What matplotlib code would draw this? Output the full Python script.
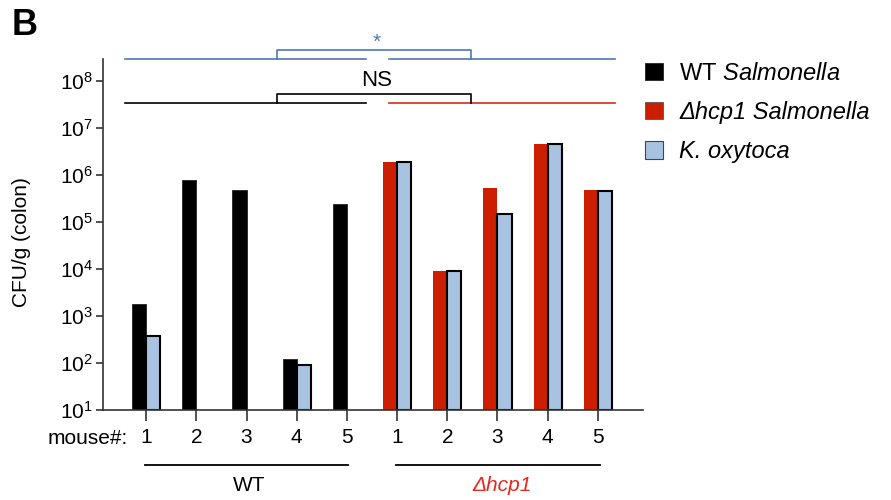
import numpy as np
import matplotlib
matplotlib.use("Agg")
import matplotlib.pyplot as plt
from matplotlib.patches import Patch
import matplotlib.transforms as mtransforms

plt.rcParams['font.family'] = ['Liberation Sans', 'DejaVu Sans']
plt.rcParams['mathtext.fontset'] = 'custom'
plt.rcParams['mathtext.rm'] = 'Liberation Sans'
plt.rcParams['mathtext.it'] = 'Liberation Sans:italic'
plt.rcParams['mathtext.bf'] = 'Liberation Sans:bold'

# CFU/g, nan = no bar
mouse_labels = ['1', '2', '3', '4', '5', '1', '2', '3', '4', '5']
wt_salmonella = [1.8e3, 7.7e5, 4.8e5, 1.2e2, 2.4e5]
wt_koxytoca = [3.7e2, np.nan, np.nan, 89, np.nan]
hcp1_salmonella = [1.9e6, 9.0e3, 5.4e5, 4.5e6, 4.7e5]
hcp1_koxytoca = [1.9e6, 9.1e3, 1.5e5, 4.6e6, 4.6e5]

c_black = '#000000'
c_red = '#cc1e00'
c_blue = '#a8c2e1'
c_sig = '#4a79b0'
c_redline = '#d8291d'

fig = plt.figure(figsize=(8.91, 5), dpi=100)
ax = fig.add_axes([103/891, 1-410/500, 540/891, 351/500])

w = 0.28
x_wt = np.arange(5)
x_hcp = np.arange(5, 10)
base = 10

ax.bar(x_wt - w/2, np.array(wt_salmonella) - base, w, bottom=base, color=c_black, edgecolor='#222222', lw=0.6)
ax.bar(x_wt + w/2, np.array(wt_koxytoca) - base, w, bottom=base, color=c_blue, edgecolor='black', lw=1.5)
ax.bar(x_hcp - w/2, np.array(hcp1_salmonella) - base, w, bottom=base, color=c_red, lw=0)
ax.bar(x_hcp + w/2, np.array(hcp1_koxytoca) - base, w, bottom=base, color=c_blue, edgecolor='black', lw=1.5)

ax.set_yscale('log')
ax.set_ylim(10, 10**8.47)
ax.set_xlim(-0.86, 9.9)
ax.set_yticks([10**k for k in range(1, 9)])
ax.yaxis.set_minor_locator(matplotlib.ticker.NullLocator())
ax.set_xticks(np.arange(10))
ax.set_xticklabels(mouse_labels)

for s in ['top', 'right']:
    ax.spines[s].set_visible(False)
for s in ['left', 'bottom']:
    ax.spines[s].set_color('#333333')
    ax.spines[s].set_linewidth(1.2)
ax.tick_params(axis='y', length=5, width=1.2, color='#333333', labelsize=15, pad=2)
ax.tick_params(axis='x', length=8, width=1.2, color='#333333', labelsize=15, pad=5)

fig.text(128/891, 1-438/500, 'mouse#:', ha='right', va='center', fontsize=15)
fig.text(22/891, 1-242/500, 'CFU/g (colon)', rotation=90, ha='center', va='center', fontsize=15)
fig.text(12/891, 1-8/500, 'B', ha='left', va='top', fontsize=26, fontweight='bold')

trans = mtransforms.blended_transform_factory(ax.transData, ax.transAxes)

# group underlines
ax.plot([-0.02, 4.02], [-0.157, -0.157], color='black', lw=1.3, transform=trans, clip_on=False)
ax.plot([4.98, 9.04], [-0.157, -0.157], color='black', lw=1.3, transform=trans, clip_on=False)
ax.text(2.05, -0.214, 'WT', ha='center', va='center', fontsize=15, transform=trans)
ax.text(7.1, -0.214, '\u0394hcp1', ha='center', va='center', fontsize=15, style='italic',
        color='#e8261c', transform=trans)

# significance lines
lw = 1.2
ax.plot([-0.42, 4.38], [1.0, 1.0], color=c_sig, lw=lw, transform=trans, clip_on=False)
ax.plot([4.83, 9.34], [1.0, 1.0], color=c_sig, lw=lw, transform=trans, clip_on=False)
ax.plot([2.6, 2.6, 6.48, 6.48], [1.0, 1.026, 1.026, 1.0], color=c_sig, lw=lw, transform=trans, clip_on=False)
ax.text(4.6, 1.048, '*', ha='center', va='center', fontsize=15, color=c_sig, transform=trans)

ax.plot([-0.42, 4.38], [0.875, 0.875], color='black', lw=lw, transform=trans, clip_on=False)
ax.plot([4.83, 9.34], [0.875, 0.875], color=c_redline, lw=lw, transform=trans, clip_on=False)
ax.plot([2.6, 2.6, 6.48, 6.48], [0.875, 0.901, 0.901, 0.875], color='black', lw=lw, transform=trans, clip_on=False)
ax.text(4.6, 0.938, 'NS', ha='center', va='center', fontsize=16, transform=trans)

handles = [Patch(facecolor=c_black, edgecolor='#222222', lw=0.6),
           Patch(facecolor=c_red, edgecolor='#555555', lw=0.6),
           Patch(facecolor=c_blue, edgecolor='#444444', lw=0.8)]
labels = [r'WT $\mathit{Salmonella}$', '\u0394hcp1 Salmonella', 'K. oxytoca']
leg = fig.legend(handles, labels, loc='upper left', bbox_to_anchor=(645/891, 1-63/500),
                 frameon=False, fontsize=17, handlelength=0.75, handleheight=0.75,
                 handletextpad=0.7, labelspacing=0.68, borderpad=0, borderaxespad=0)
leg.get_texts()[1].set_fontstyle('italic')
leg.get_texts()[2].set_fontstyle('italic')

fig.savefig('out.png', dpi=100)
